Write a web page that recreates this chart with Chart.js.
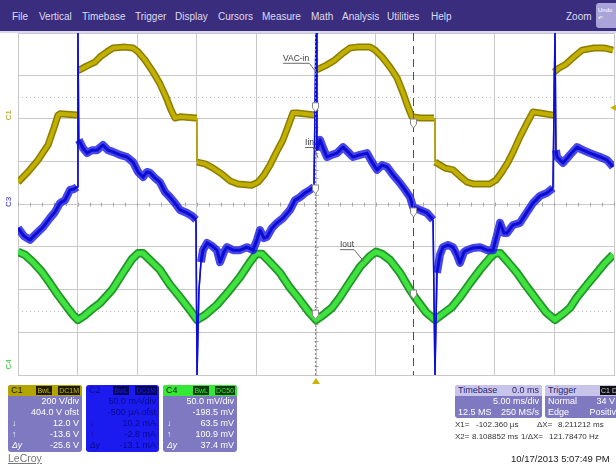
<!DOCTYPE html>
<html>
<head>
<meta charset="utf-8">
<script src="https://cdn.jsdelivr.net/npm/chart.js@4.4.0/dist/chart.umd.min.js"></script>
<style>
  body { margin: 0; width: 616px; height: 468px; overflow: hidden; background: #fff; position: relative;
         font-family: "Liberation Sans", Arial, sans-serif; }
  #scope { position: absolute; left: 0; top: 0; }
  .menu { position: absolute; left: 0; top: 0; width: 616px; height: 31px; background: #3b2d7d; }
  .menu span { position: absolute; top: 11px; font-size: 10px; color: #dedcf0; }
  .strip { position: absolute; left: 0; top: 31px; width: 616px; height: 2px; background: #d9d6ef; }
  .undo { position: absolute; left: 596px; top: 3px; width: 24px; height: 25px; background: #a9a3d8; border-radius: 3px;
          font-size: 6px; line-height: 8px; color: #fff; padding-top: 3px; box-sizing: border-box; padding-left: 2px; }
  .panel { position: absolute; top: 385px; height: 67px; width: 74px; border-radius: 3px; overflow: hidden;
           background: #7f79c1; color: #fff; font-size: 9px; line-height: 11px; }
  .hd { height: 11px; position: relative; padding-left: 3px; color: #1a1a1a; }
  .hd .bx { position: absolute; top: 1px; height: 9px; line-height: 9px; font-size: 7px; padding: 0 1px; }
  .r { height: 11px; text-align: right; padding-right: 3px; position: relative; }
  .r i { position: absolute; left: 4px; font-size: 8.5px; }
  .c2 { background: #1b1bef; color: #0a0a8c; }
  .c2 .hd { color: #0a0a8c; }
  .tb .hd { background: #c9c5ea; color: #2a2370; }
  .tb .hd span { position: absolute; right: 3px; }
  .tb .r span { position: absolute; left: 3px; }
  .txt { position: absolute; font-size: 8px; color: #333; white-space: nowrap; }
</style>
</head>
<body>
<canvas id="scope" width="616" height="468"></canvas>

<div class="menu">
  <span style="left:12px">File</span>
  <span style="left:39px">Vertical</span>
  <span style="left:82px">Timebase</span>
  <span style="left:135px">Trigger</span>
  <span style="left:175px">Display</span>
  <span style="left:218px">Cursors</span>
  <span style="left:262px">Measure</span>
  <span style="left:311px">Math</span>
  <span style="left:342px">Analysis</span>
  <span style="left:387px">Utilities</span>
  <span style="left:431px">Help</span>
  <span style="left:566px">Zoom</span>
</div>
<div class="undo">Undo<br>↶</div>
<div class="strip"></div>

<div class="panel" style="left:8px">
  <div class="hd" style="background:#b4a400">C1<span class="bx" style="right:30px;background:#1f1c00;color:#c8b800">BwL</span><span class="bx" style="right:2px;background:#1f1c00;color:#c8b800">DC1M</span></div>
  <div class="r">200 V/div</div>
  <div class="r">404.0 V ofst</div>
  <div class="r"><i>↓</i>12.0 V</div>
  <div class="r"><i>↑</i>-13.6 V</div>
  <div class="r"><i>Δy</i>-25.6 V</div>
</div>
<div class="panel c2" style="left:86px;width:73px">
  <div class="hd">C2<span class="bx" style="right:30px;background:#06065a;color:#1b1bef">BwL</span><span class="bx" style="right:2px;background:#06065a;color:#1b1bef">DC1M</span></div>
  <div class="r">50.0 mA/div</div>
  <div class="r">-500 µA ofst</div>
  <div class="r"><i>↓</i>10.2 mA</div>
  <div class="r"><i>↑</i>-2.8 mA</div>
  <div class="r"><i>Δy</i>-13.1 mA</div>
</div>
<div class="panel" style="left:163px">
  <div class="hd" style="background:#36e836">C4<span class="bx" style="right:28px;background:#0d3d0d;color:#36e836">BwL</span><span class="bx" style="right:2px;background:#0d3d0d;color:#36e836">DC50</span></div>
  <div class="r">50.0 mV/div</div>
  <div class="r">-198.5 mV</div>
  <div class="r"><i>↓</i>63.5 mV</div>
  <div class="r"><i>↑</i>100.9 mV</div>
  <div class="r"><i>Δy</i>37.4 mV</div>
</div>

<div class="panel tb" style="left:455px;width:87px;height:33px">
  <div class="hd">Timebase<span>0.0 ms</span></div>
  <div class="r">5.00 ms/div</div>
  <div class="r"><span>12.5 MS</span>250 MS/s</div>
</div>
<div class="panel tb" style="left:545px;width:78px;height:33px">
  <div class="hd">Trigger<span class="bx" style="right:0px;background:#111;color:#c9c5ea;top:1px">C1 DC</span></div>
  <div class="r" style="padding-right:8px"><span>Normal</span>34 V</div>
  <div class="r" style="padding-right:2px"><span>Edge</span>Positive</div>
</div>

<div class="txt" style="left:455px;top:420px">X1=</div>
<div class="txt" style="left:476px;top:420px">-102.360 µs</div>
<div class="txt" style="left:537px;top:420px">ΔX=</div>
<div class="txt" style="left:558px;top:420px">8.211212 ms</div>
<div class="txt" style="left:455px;top:432px">X2=</div>
<div class="txt" style="left:472px;top:432px">8.108852 ms</div>
<div class="txt" style="left:521px;top:432px">1/ΔX=</div>
<div class="txt" style="left:549px;top:432px">121.78470 Hz</div>
<div class="txt" style="left:511px;top:453px;font-size:9.5px;color:#222">10/17/2013 5:07:49 PM</div>
<div class="txt" style="left:8px;top:452px;font-size:10.5px;color:#777;text-decoration:underline">LeCroy</div>

<script>
// time in ms (5 ms/div), levels in screen divisions
const vacTime = [-25.0, -24.16, -23.32, -22.48, -21.98, -21.64, -21.48, -20.05, -19.97, -19.96, -19.88, -19.21, -18.54, -18.12, -17.53, -17.03, -16.02, -15.35, -14.93, -14.35, -13.67, -13.09, -12.58, -12.16, -11.83, -11.41, -10.07, -9.99, -9.98, -9.31, -8.64, -7.89, -7.21, -6.54, -5.37, -4.87, -4.36, -3.86, -3.36, -2.77, -2.27, -1.93, -1.59, -0.08, 0.0, 0.01, 0.76, 1.59, 2.26, 2.85, 3.44, 4.53, 4.95, 5.54, 6.21, 6.80, 7.30, 7.72, 8.05, 8.72, 9.90, 9.98, 9.99, 10.82, 11.49, 12.08, 12.67, 13.17, 14.60, 15.10, 15.60, 16.11, 16.61, 17.11, 17.70, 18.20, 18.79, 19.89, 19.97, 19.98, 20.39, 20.97, 21.64, 22.32, 23.32, 24.16, 24.92];
const vacLevel = [0.51, 0.75, 1.03, 1.38, 1.78, 2.08, 2.11, 2.08, 2.08, 3.13, 3.13, 3.23, 3.32, 3.44, 3.56, 3.65, 3.67, 3.65, 3.56, 3.37, 3.09, 2.81, 2.50, 2.20, 2.01, 2.04, 2.01, 2.01, 0.98, 0.94, 0.84, 0.70, 0.54, 0.47, 0.44, 0.51, 0.68, 0.91, 1.19, 1.50, 1.87, 2.13, 2.13, 2.08, 2.08, 3.13, 3.23, 3.37, 3.53, 3.65, 3.67, 3.67, 3.60, 3.44, 3.20, 2.95, 2.60, 2.27, 2.04, 2.01, 2.01, 2.01, 0.98, 0.84, 0.80, 0.65, 0.51, 0.47, 0.47, 0.56, 0.75, 0.98, 1.26, 1.57, 1.89, 2.15, 2.13, 2.08, 2.08, 3.09, 3.18, 3.27, 3.44, 3.60, 3.65, 3.65, 3.60];

const iinTime = [-25.0, -24.50, -23.99, -23.49, -22.90, -22.32, -21.90, -21.48, -21.06, -20.64, -20.30, -20.05, -19.97, -19.90, -19.55, -19.21, -18.79, -18.37, -17.87, -17.45, -17.03, -16.44, -15.86, -15.35, -14.93, -14.51, -14.18, -13.93, -13.51, -13.09, -12.67, -12.25, -11.83, -11.41, -10.82, -10.40, -10.07, -9.98, -9.82, -9.65, -9.48, -9.14, -8.72, -8.31, -8.05, -7.72, -7.47, -6.96, -6.38, -5.79, -5.29, -4.95, -4.70, -4.36, -4.11, -3.69, -3.27, -2.77, -2.18, -1.76, -1.34, -0.92, -0.50, -0.17, 0.0, 0.08, 0.34, 0.67, 0.92, 1.34, 1.76, 2.27, 2.68, 3.10, 3.69, 4.28, 4.70, 5.12, 5.54, 5.96, 6.46, 7.05, 7.47, 7.89, 8.14, 8.72, 9.31, 9.82, 9.98, 10.15, 10.40, 10.65, 11.07, 11.49, 11.83, 12.08, 12.42, 12.67, 13.17, 13.76, 14.35, 14.85, 15.18, 15.44, 15.77, 16.02, 16.53, 17.11, 17.70, 18.20, 18.79, 19.38, 19.88, 20.05, 20.13, 20.22, 20.72, 21.31, 21.90, 22.40, 22.99, 23.83, 24.41, 24.92];
const iinLevel = [-0.56, -0.75, -0.84, -0.70, -0.54, -0.33, -0.19, 0.02, 0.09, 0.33, 0.35, 0.40, 4.0, 1.50, 1.31, 1.19, 1.26, 1.26, 1.38, 1.26, 1.22, 1.15, 1.10, 0.98, 0.75, 0.63, 0.75, 0.73, 0.61, 0.51, 0.28, 0.16, 0.02, -0.14, -0.21, -0.28, -0.37, -4.0, -2.01, -1.36, -1.08, -0.91, -0.98, -1.08, -1.36, -1.12, -1.01, -1.08, -1.08, -1.01, -1.08, -0.84, -0.61, -0.80, -0.77, -0.56, -0.44, -0.33, -0.14, 0.09, 0.16, 0.26, 0.33, 0.40, 4.0, 1.26, 1.50, 1.26, 1.10, 1.15, 1.19, 1.33, 1.22, 1.10, 1.15, 1.19, 0.98, 0.80, 0.91, 0.87, 0.68, 0.49, 0.33, 0.16, -0.07, -0.14, -0.21, -0.37, -4.0, -1.61, -1.19, -1.01, -0.96, -1.01, -1.19, -1.38, -1.12, -1.08, -1.03, -1.01, -1.08, -1.08, -0.73, -0.44, -0.68, -0.68, -0.49, -0.44, -0.19, 0.02, 0.19, 0.26, 0.37, 4.0, 1.26, 1.10, 0.96, 1.15, 1.33, 1.26, 1.19, 1.10, 1.03, 0.87];

const ioutTime = [-25.0, -24.41, -23.74, -22.99, -22.32, -21.64, -20.89, -20.30, -19.97, -19.46, -18.79, -18.12, -17.11, -16.19, -15.44, -14.93, -14.51, -13.93, -13.09, -12.25, -11.41, -10.57, -9.98, -9.31, -8.31, -7.38, -6.38, -5.54, -5.03, -4.53, -3.86, -3.02, -2.18, -1.34, -0.59, 0.0, 0.59, 1.34, 2.01, 2.85, 3.69, 4.53, 5.03, 5.54, 6.21, 7.05, 7.89, 8.47, 9.23, 9.98, 10.65, 11.41, 12.08, 12.92, 13.76, 14.60, 15.02, 15.44, 16.11, 16.86, 17.70, 18.54, 19.30, 20.05, 20.72, 21.31, 21.90, 22.73, 23.57, 24.24, 24.92];
const ioutLevel = [-1.12, -1.19, -1.36, -1.59, -1.85, -2.13, -2.41, -2.62, -2.71, -2.62, -2.46, -2.32, -2.01, -1.61, -1.29, -1.15, -1.15, -1.31, -1.54, -1.89, -2.18, -2.48, -2.71, -2.60, -2.36, -2.06, -1.71, -1.36, -1.17, -1.17, -1.36, -1.61, -1.96, -2.25, -2.53, -2.71, -2.60, -2.43, -2.18, -1.82, -1.47, -1.22, -1.12, -1.17, -1.31, -1.61, -2.01, -2.25, -2.53, -2.71, -2.57, -2.41, -2.18, -1.85, -1.54, -1.26, -1.15, -1.15, -1.36, -1.61, -1.94, -2.25, -2.53, -2.71, -2.57, -2.43, -2.18, -1.89, -1.61, -1.38, -1.19];

const cursorX1 = -0.10236;
const cursorX2 = 8.108852;
const x1Marks = [2.25, 0.33, -2.6];
const x2Marks = [1.87, -0.21, -2.13];
const refLevels = [2.5, -2.5];
const channelTags = ['C1', 'C3', 'C4'];
const tagLevels = [2.08, 0.05, -3.75];
const tagColors = ['#a89a00', '#2222dd', '#2ccc2c'];
const noteText = ['VAC-in', 'Iin', 'Iout'];
const noteAt = [[-2.77, 3.35], [-0.92, 1.38], [2.01, -1.01]];
const noteTip = [[0.1, 3.05], [0.17, 1.08], [4.03, -1.35]];

const pts = (ts, vs) => ts.map((t, i) => ({ x: t, y: vs[i] }));

// jumps/spikes are drawn thin, like the scope does
const thinJumps = (w, thin) => ({
  borderWidth: c => (Math.abs(c.p1.y - c.p0.y) > 25 && Math.abs(c.p1.x - c.p0.x) < 3) ? thin : w
});

const scopeOverlay = {
  id: 'scopeOverlay',
  beforeDatasetsDraw(chart) {
    const { ctx, chartArea: a, scales: { x, y } } = chart;
    ctx.save();
    ctx.lineWidth = 1;
    ctx.strokeStyle = '#bcbcbc';
    ctx.setLineDash([1, 3]);
    refLevels.forEach(v => {
      const py = Math.round(y.getPixelForValue(v)) + 0.5;
      ctx.beginPath(); ctx.moveTo(a.left, py); ctx.lineTo(a.right, py); ctx.stroke();
    });
    ctx.setLineDash([]);
    // minor ticks on the centre cross
    ctx.strokeStyle = '#a6a6a6';
    const cy = Math.round(y.getPixelForValue(0)) + 0.5;
    const cx = Math.round(x.getPixelForValue(0)) + 0.5;
    ctx.beginPath();
    for (let t = -25; t <= 25; t += 1) {
      const px = Math.round(x.getPixelForValue(t)) + 0.5;
      ctx.moveTo(px, cy - 2); ctx.lineTo(px, cy + 2);
    }
    for (let d = -4; d <= 4.001; d += 0.2) {
      const py = Math.round(y.getPixelForValue(d)) + 0.5;
      ctx.moveTo(cx - 2, py); ctx.lineTo(cx + 2, py);
    }
    ctx.stroke();
    ctx.restore();
  },
  afterDatasetsDraw(chart) {
    const { ctx, chartArea: a, scales: { x, y } } = chart;
    ctx.save();
    // cursors
    const p1 = Math.round(x.getPixelForValue(cursorX1)) + 0.5;
    const p2 = Math.round(x.getPixelForValue(cursorX2)) + 0.5;
    ctx.lineWidth = 1;
    ctx.strokeStyle = '#8a8a8a';
    ctx.setLineDash([2, 2]);
    ctx.beginPath(); ctx.moveTo(p1, a.top); ctx.lineTo(p1, a.bottom); ctx.stroke();
    ctx.strokeStyle = '#505050';
    ctx.setLineDash([8, 5]);
    ctx.beginPath(); ctx.moveTo(p2, a.top); ctx.lineTo(p2, a.bottom); ctx.stroke();
    ctx.setLineDash([]);

    const marker = (px, py) => {
      ctx.beginPath();
      ctx.moveTo(px - 3, py - 5); ctx.lineTo(px + 3, py - 5); ctx.lineTo(px + 3, py);
      ctx.lineTo(px, py + 4); ctx.lineTo(px - 3, py); ctx.closePath();
      ctx.fillStyle = '#fff'; ctx.fill();
      ctx.strokeStyle = '#8a8a8a'; ctx.stroke();
    };
    x1Marks.forEach(v => marker(p1, y.getPixelForValue(v)));
    x2Marks.forEach(v => marker(p2, y.getPixelForValue(v)));

    // trace labels with leader lines
    ctx.font = '8.5px "Liberation Sans", Arial, sans-serif';
    ctx.textBaseline = 'alphabetic';
    noteText.forEach((s, i) => {
      const tx = x.getPixelForValue(noteAt[i][0]);
      const ty = y.getPixelForValue(noteAt[i][1]);
      const w = ctx.measureText(s).width;
      ctx.fillStyle = '#3a3a3a';
      ctx.fillText(s, tx, ty);
      ctx.strokeStyle = '#6a6a6a';
      ctx.beginPath();
      ctx.moveTo(tx, ty + 2.5); ctx.lineTo(tx + w, ty + 2.5);
      ctx.lineTo(x.getPixelForValue(noteTip[i][0]), y.getPixelForValue(noteTip[i][1]));
      ctx.stroke();
    });

    // channel ground tags on the left
    ctx.font = '8px "Liberation Sans", Arial, sans-serif';
    ctx.textAlign = 'center';
    ctx.textBaseline = 'middle';
    channelTags.forEach((s, i) => {
      ctx.save();
      ctx.translate(9, y.getPixelForValue(tagLevels[i]));
      ctx.rotate(-Math.PI / 2);
      ctx.fillStyle = tagColors[i];
      ctx.fillText(s, 0, 0);
      ctx.restore();
    });

    // trigger position and level
    const tp = x.getPixelForValue(0);
    ctx.fillStyle = '#c9b400';
    ctx.beginPath(); ctx.moveTo(tp, a.bottom + 3); ctx.lineTo(tp + 4, a.bottom + 9); ctx.lineTo(tp - 4, a.bottom + 9); ctx.closePath(); ctx.fill();
    const tl = y.getPixelForValue(2.25);
    ctx.beginPath(); ctx.moveTo(a.right - 4, tl); ctx.lineTo(616, tl - 3); ctx.lineTo(616, tl + 3); ctx.closePath(); ctx.fill();
    ctx.restore();
  }
};

new Chart(document.getElementById('scope'), {
  type: 'line',
  data: {
    datasets: [
      { label: 'Iin', data: pts(iinTime, iinLevel), borderColor: '#0c0cd4', borderWidth: 3, order: 0, segment: thinJumps(3, 1.5) },
      { label: 'Iin band', data: pts(iinTime, iinLevel), borderColor: 'rgba(25,25,228,0.8)', borderWidth: 8, order: 1, segment: thinJumps(8, 1.5) },
      { label: 'Iout', data: pts(ioutTime, ioutLevel), borderColor: '#3fe23f', borderWidth: 5, order: 2 },
      { label: 'Iout band', data: pts(ioutTime, ioutLevel), borderColor: '#23962a', borderWidth: 8.5, order: 3 },
      { label: 'VAC-in', data: pts(vacTime, vacLevel), borderColor: '#c2b000', borderWidth: 4, order: 4, segment: thinJumps(4, 1) },
      { label: 'VAC-in band', data: pts(vacTime, vacLevel), borderColor: '#8c7d00', borderWidth: 7, order: 5, segment: thinJumps(7, 1.5) }
    ]
  },
  options: {
    responsive: false,
    animation: false,
    layout: { padding: { left: 18, right: 2, top: 33, bottom: 93 } },
    elements: { point: { radius: 0 }, line: { tension: 0, borderJoinStyle: 'round', borderCapStyle: 'butt' } },
    plugins: { legend: { display: false }, tooltip: { enabled: false } },
    scales: {
      x: {
        type: 'linear', min: -25, max: 25,
        ticks: { display: false, stepSize: 5 },
        grid: { color: '#c9c9c9', drawTicks: false },
        border: { color: '#c9c9c9' }
      },
      y: {
        min: -4, max: 4,
        ticks: { display: false, stepSize: 1 },
        grid: { color: '#c9c9c9', drawTicks: false },
        border: { color: '#c9c9c9' }
      }
    }
  },
  plugins: [scopeOverlay]
});
</script>
</body>
</html>
